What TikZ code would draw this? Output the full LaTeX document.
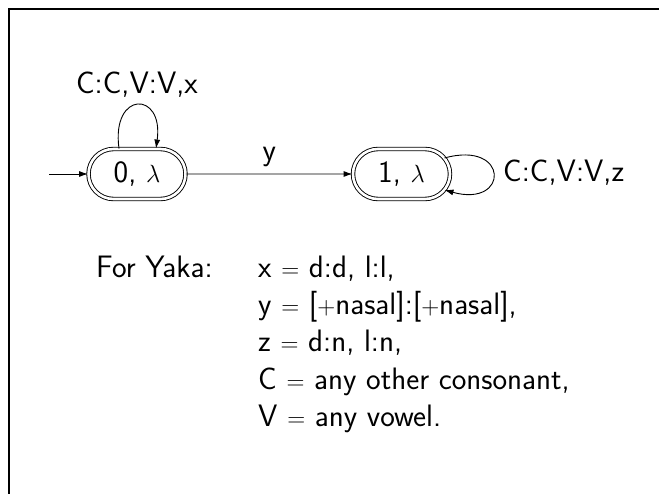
\documentclass[tikz,border=0pt]{standalone}
\usetikzlibrary{shapes.misc,arrows.meta}
\begin{document}
\begin{tikzpicture}[x=1pt,y=-1pt,
  every node/.style={font=\fontsize{31}{37}\selectfont\sffamily},
  state/.style={rounded rectangle, draw, double, double distance=2.6pt, line width=0.9pt, minimum width=97pt, minimum height=50pt, inner sep=0pt},
  arr/.style={line width=0.9pt, -{Latex[length=9pt,width=6pt]}},
  lbl/.style={inner sep=0pt}]
\useasboundingbox (0,0) rectangle (659,494);
\draw[line width=2pt] (8.5,494) -- (8.5,9.5) -- (659,9.5);
\node[state] (n0) at (137,174) {0, $\lambda$};
\node[state] (n1) at (401.5,174) {1, $\lambda$};
\coordinate (start) at (49,174);
\draw[arr] (start) -- (n0);
\draw[arr] (n0) -- node[lbl, anchor=base, yshift=13pt] (ly) {y} (n1);
\draw[arr] ([xshift=-18pt]n0.north) .. controls +(-8,-58) and +(8,-58) .. ([xshift=19pt]n0.north);
\node[lbl] (lx) at (137,85) {C:C,V:V,x};
\draw[arr] ([shift={(43,-16)}]n1.center) .. controls +(65,-18) and +(65,18) .. ([shift={(43,16)}]n1.center);
\node[lbl, anchor=west] (lz) at (503,173) {C:C,V:V,z};
\node[lbl, anchor=base west] (fy) at (96,278) {For Yaka:};
\node[lbl, anchor=base west] (t1) at (258,278) {x $=$ d:d, l:l,};
\node[lbl, anchor=base west] (t2) at (258,315) {y $=$ [$+$nasal]:[$+$nasal],};
\node[lbl, anchor=base west] (t3) at (258,352) {z $=$ d:n, l:n,};
\node[lbl, anchor=base west] (t4) at (258,389) {C $=$ any other consonant,};
\node[lbl, anchor=base west] (t5) at (258,426) {V $=$ any vowel.};
\end{tikzpicture}
\end{document}
